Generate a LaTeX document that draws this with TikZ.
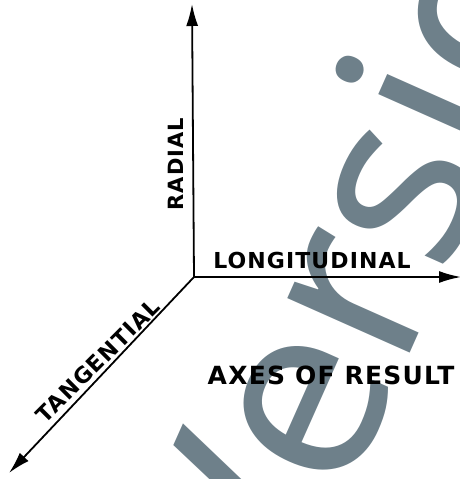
\documentclass[tikz,border=0pt]{standalone}
\usepackage{fontspec}
\newfontfamily\lettering[LetterSpace=5]{DejaVu Sans}
\newfontfamily\markfont{Noto Sans}
\usetikzlibrary{arrows.meta}
\definecolor{watermark}{RGB}{110,128,138}

\begin{document}
\begin{tikzpicture}[
    x=1pt, y=-1pt, ->, >={Latex[length=22pt, width=12pt]}, line width=1.8pt,
    axislabel/.style={font=\lettering\bfseries\fontsize{22}{22}\selectfont, inner sep=0pt}
]
\clip (0,0) rectangle (460,479);
\node (version_mark) [font=\markfont\fontsize{250}{250}\selectfont, text=watermark, rotate=66, inner sep=0pt, anchor=base] at (464,232) {Version};

\coordinate (origin) at (194,277);
\coordinate (radial_end) at (192,4);
\coordinate (longitudinal_end) at (461,277);
\coordinate (tangential_end) at (9,473);

\node (radial_label) [axislabel, rotate=90, font=\lettering\bfseries\fontsize{21}{21}\selectfont] at (176,164) {RADIAL};
\node (longitudinal_label) [axislabel] at (312,260) {LONGITUDINAL};
\node (tangential_label) [axislabel, rotate=45] at (98,361) {TANGENTIAL};
\node (axes_title) [axislabel, font=\lettering\bfseries\fontsize{25}{25}\selectfont] at (331,375) {AXES OF RESULT};

\draw[->] (origin) -- (radial_end);
\draw[->] (origin) -- (longitudinal_end);
\draw[->] (origin) -- (tangential_end);
\end{tikzpicture}
\end{document}
